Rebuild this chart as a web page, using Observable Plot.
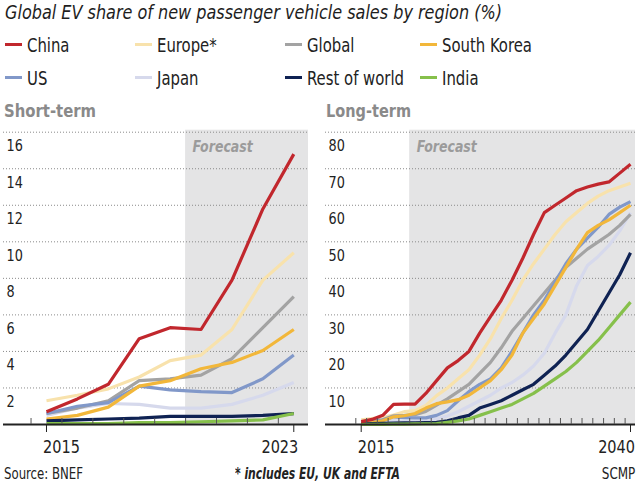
<!DOCTYPE html>
<html><head><meta charset="utf-8">
<script src="https://cdn.jsdelivr.net/npm/d3@7"></script>
<script src="https://cdn.jsdelivr.net/npm/@observablehq/plot@0.6"></script>
<style>
html,body{margin:0;padding:0;background:#fff;}
#root{position:relative;width:640px;height:487px;overflow:hidden;font-family:"Liberation Sans Narrow","DejaVu Sans Condensed","Arial Narrow",sans-serif;color:#222;}
.t{position:absolute;white-space:nowrap;line-height:1;}
.sw{position:absolute;height:3px;width:17px;}
.chart{position:absolute;top:124px;}
</style></head><body><div id="root"></div>
<script>
// ---- Data ----
const title = "Global EV share of new passenger vehicle sales by region (%)";
const regions = ["China", "Europe*", "Global", "South Korea", "US", "Japan", "Rest of world", "India"];
const regionColors = ["#c1272d", "#f8e2ac", "#a3a3a3", "#f2b73a", "#8198c9", "#d6d9ec", "#0f2253", "#86c04b"];
const drawOrder = ["Japan", "Europe*", "Global", "US", "South Korea", "Rest of world", "India", "China"];

const shortYears = [2015, 2016, 2017, 2018, 2019, 2020, 2021, 2022, 2023];
const shortChina  = [0.7, 1.4, 2.2, 4.7, 5.3, 5.2, 7.9, 11.8, 14.8];
const shortEurope = [1.3, 1.6, 1.95, 2.6, 3.5, 3.8, 5.2, 7.9, 9.4];
const shortGlobal = [0.6, 0.9, 1.3, 2.4, 2.5, 2.7, 3.6, 5.3, 7.0];
const shortKorea  = [0.3, 0.5, 0.95, 2.1, 2.4, 3.05, 3.4, 4.05, 5.2];
const shortUS     = [0.6, 1.0, 1.2, 2.1, 1.9, 1.8, 1.75, 2.5, 3.8];
const shortJapan  = [0.5, 0.9, 1.15, 1.1, 0.9, 0.9, 1.1, 1.6, 2.3];
const shortRoW    = [0.2, 0.25, 0.3, 0.35, 0.45, 0.45, 0.45, 0.5, 0.6];
const shortIndia  = [0.05, 0.05, 0.05, 0.1, 0.1, 0.15, 0.2, 0.25, 0.6];

const longYears = [2015, 2016, 2017, 2018, 2019, 2020, 2021, 2022, 2023, 2024, 2025, 2026, 2027,
                   2028, 2029, 2030, 2031, 2032, 2033, 2034, 2035, 2036, 2037, 2038, 2039, 2040];
const longChina  = [0.8, 1.4, 2.5, 5.5, 5.6, 5.6, 8.5, 12, 15.5, 17.5, 20, 25, 29.5, 34, 39.5, 45.5, 52, 58, 60, 62, 64, 65, 65.8, 66.4, 68.8, 71.2];
const longEurope = [1.3, 1.6, 2.0, 2.6, 3.5, 3.8, 5.2, 7.9, 10, 12.5, 15, 19, 23.5, 29, 34, 39.5, 44, 48, 52, 55.5, 58, 60.5, 62.5, 64, 65, 66];
const longGlobal = [0.6, 0.9, 1.3, 2.4, 2.5, 2.7, 3.6, 5.3, 7, 9, 11, 14, 17, 21, 25.5, 29, 32.5, 36, 39.5, 43, 45.5, 48, 50, 52, 54.5, 57.5];
const longKorea  = [0.3, 0.5, 1, 2.1, 2.4, 3, 4.5, 5.7, 6.2, 6.8, 8, 10, 12, 15, 19, 25, 29, 33, 38, 43, 48, 52.5, 54.5, 56, 58, 60];
const longUS     = [0.6, 1, 1.2, 2.1, 1.9, 1.8, 1.8, 2.5, 3.8, 6.5, 9, 11, 12.5, 15.5, 20, 25, 30, 34, 39, 44, 48, 51, 54, 57.5, 59.5, 61];
const longJapan  = [0.5, 0.9, 1.1, 1.1, 0.9, 0.9, 1.1, 1.6, 2.3, 3.5, 5, 6.5, 8, 10, 11.5, 13.5, 16, 19.5, 25, 30, 38, 43.5, 46, 49, 53, 58];
const longRoW    = [0.2, 0.25, 0.3, 0.35, 0.45, 0.45, 0.5, 0.6, 1.0, 1.8, 2.5, 4.5, 5.5, 6.5, 8, 9.5, 11, 13.5, 16, 19, 22.5, 26, 31, 36, 41, 47];
const longIndia  = [0.05, 0.05, 0.05, 0.1, 0.1, 0.15, 0.2, 0.25, 0.6, 1.0, 1.5, 2.5, 3.5, 4.5, 5.5, 7, 8.5, 10.5, 12.5, 14.5, 17, 20, 23, 26.5, 30, 33.5];

const forecastStart = 2019.5;
const shortYTicks = [2, 4, 6, 8, 10, 12, 14, 16];
const longYTicks = [10, 20, 30, 40, 50, 60, 70, 80];
const shortXLabels = [2015, 2023];
const longXLabels = [2015, 2040];
const shortMinorTicks = [2014.5, 2015.5, 2016.5, 2017.5, 2018.5, 2019.5, 2020.5, 2021.5, 2022.5];
const longMinorTicks = [2014.5, 2015.5, 2016.5, 2017.5, 2018.5, 2019.5, 2020.5, 2021.5, 2022.5, 2023.5, 2024.5,
  2025.5, 2026.5, 2027.5, 2028.5, 2029.5, 2030.5, 2031.5, 2032.5, 2033.5, 2034.5, 2035.5, 2036.5, 2037.5, 2038.5, 2039.5];

// ---- Build tables ----
function table(years, series) {
  const rows = [];
  for (const r of drawOrder) {
    series[r].forEach((v, i) => rows.push({region: r, year: years[i], value: v}));
  }
  return rows;
}
const shortRows = table(shortYears, {
  "China": shortChina, "Europe*": shortEurope, "Global": shortGlobal, "South Korea": shortKorea,
  "US": shortUS, "Japan": shortJapan, "Rest of world": shortRoW, "India": shortIndia
});
const longRows = table(longYears, {
  "China": longChina, "Europe*": longEurope, "Global": longGlobal, "South Korea": longKorea,
  "US": longUS, "Japan": longJapan, "Rest of world": longRoW, "India": longIndia
});

const FONT = '"Liberation Sans Narrow","DejaVu Sans Condensed","Arial Narrow",sans-serif';
const root = document.getElementById("root");

// place text by baseline; optionally squeeze horizontally (fixed factor or to a target width)
function place(text, x, baseline, fs, extra = {}, align = "left", squeeze = null, target = null) {
  const el = document.createElement("div");
  el.className = "t";
  el.textContent = text;
  el.style.fontSize = fs + "px";
  el.style.top = (baseline - 0.85 * fs) + "px";
  if (align === "right") el.style.right = (640 - x) + "px"; else el.style.left = x + "px";
  Object.assign(el.style, extra);
  root.appendChild(el);
  let s = squeeze;
  if (target != null) s = target / el.getBoundingClientRect().width;
  if (s != null) {
    el.style.transformOrigin = align === "right" ? "right center" : "left center";
    el.style.transform = `scaleX(${s})`;
  }
  return el;
}

// Title
place(title, 5, 19, 20, {fontStyle: "italic", color: "#1e1e1e"}, "left", null, 497);

// Legend
const legendCols = [5, 135, 285, 420];
const legendRows = [44.5, 77.5];
regions.forEach((r, i) => {
  const col = i % 4, row = Math.floor(i / 4);
  const sw = document.createElement("div");
  sw.className = "sw";
  sw.style.left = legendCols[col] + "px";
  sw.style.top = (legendRows[row] - 1.5) + "px";
  sw.style.background = regionColors[i];
  root.appendChild(sw);
  place(r, legendCols[col] + 22, legendRows[row] + 8, 19, {color: "#222"}, "left", 0.87);
});

// Subheads
place("Short-term", 4, 117.5, 18, {fontWeight: "bold", color: "#8a8a8a"}, "left", null, 92);
place("Long-term", 326, 117.5, 18, {fontWeight: "bold", color: "#8a8a8a"}, "left", null, 85);

// Footer
place("Source: BNEF", 4, 480, 16, {color: "#222"}, "left", null, 79);
place("* includes EU, UK and EFTA", 235, 480, 16, {fontWeight: "bold", fontStyle: "italic", color: "#222"}, "left", null, 165);
place("SCMP", 635, 480, 16, {color: "#222"}, "right", null, 33.5);

function squeezeText(svg, cls, s) {
  svg.querySelectorAll(`.${cls} text`).forEach(t => {
    const tr = t.getAttribute("transform") || "";
    const x = +(t.getAttribute("x") || 0);
    t.setAttribute("transform", `${tr} translate(${x},0) scale(${s},1) translate(${-x},0)`);
  });
}

function chart({rows, xDomain, yDomain, yTicks, xLabels, minorTicks, width, marginLeft, marginRight}) {
  const svg = Plot.plot({
    width, height: 340,
    marginLeft, marginRight, marginTop: 7.7, marginBottom: 40,
    x: {domain: xDomain},
    y: {domain: yDomain, axis: null},
    color: {domain: regions, range: regionColors},
    style: {fontFamily: FONT, fontSize: "17px", background: "transparent", color: "#222", overflow: "visible"},
    marks: [
      Plot.rect([forecastStart], {x1: d => d, x2: () => xDomain[1], fill: "#e4e4e5", insetTop: -2}),
      Plot.ruleY(yTicks, {stroke: "#8a8a8a", strokeWidth: 1, strokeDasharray: "1,2"}),
      Plot.text(yTicks, {y: d => d, frameAnchor: "left", textAnchor: "start", lineAnchor: "top",
        dx: 3, dy: 8, fontSize: 15.5, fill: "#222", text: d => String(d), className: "ylab"}),
      Plot.text([forecastStart], {x: d => d, frameAnchor: "top", text: () => "Forecast", textAnchor: "start",
        lineAnchor: "top", dx: 7, dy: 9, fontSize: 15, fontWeight: "bold", fontStyle: "italic", fill: "#9b9b9b",
        className: "fc"}),
      Plot.line(rows, {x: "year", y: "value", z: "region", stroke: "region", strokeWidth: 3.2,
        strokeLinejoin: "round", strokeLinecap: "butt"}),
      Plot.ruleY([0], {stroke: "#222", strokeWidth: 2}),
      Plot.axisX(minorTicks, {tickSize: -6, fill: "none", stroke: "#555", label: null}),
      Plot.axisX(xLabels, {tickSize: 8, fill: "none", stroke: "#222", label: null}),
      Plot.axisX(xLabels.slice(0, 1), {tickSize: 0, tickPadding: 16, textAnchor: "start", dx: -3.5,
        fontSize: 18, tickFormat: d => String(d), label: null, className: "xlab"}),
      Plot.axisX(xLabels.slice(1), {tickSize: 0, tickPadding: 16, textAnchor: "end", dx: 4.5,
        fontSize: 18, tickFormat: d => String(d), label: null, className: "xlab"})
    ]
  });
  squeezeText(svg, "ylab", 0.92);
  squeezeText(svg, "fc", 0.93);
  squeezeText(svg, "xlab", 0.895);
  return svg;
}

const left = chart({rows: shortRows, xDomain: [2013.609, 2023.476], yDomain: [0, 16], yTicks: shortYTicks,
  xLabels: shortXLabels, minorTicks: shortMinorTicks, width: 318, marginLeft: 3, marginRight: 10});
left.classList.add("chart");
left.style.left = "0px";
root.appendChild(left);

const right = chart({rows: longRows, xDomain: [2011.686, 2040.464], yDomain: [0, 80], yTicks: longYTicks,
  xLabels: longXLabels, minorTicks: longMinorTicks, width: 320, marginLeft: 5, marginRight: 5});
right.classList.add("chart");
right.style.left = "320px";
root.appendChild(right);
</script></body></html>
